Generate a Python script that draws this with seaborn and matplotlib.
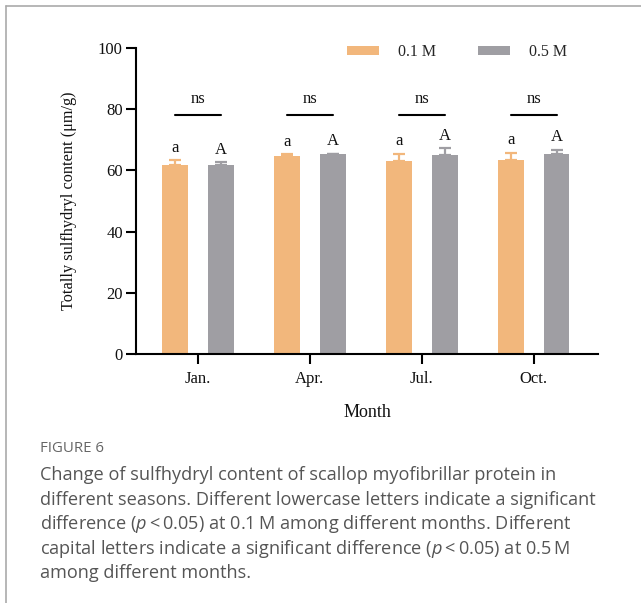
import matplotlib
matplotlib.use("Agg")
import matplotlib.pyplot as plt
import seaborn as sns
import pandas as pd
import numpy as np
from matplotlib.patches import Patch
from matplotlib.lines import Line2D

months = ["Jan.", "Apr.", "Jul.", "Oct."]
conc = ["0.1 M", "0.5 M"]
vals_01 = [61.8, 64.7, 63.1, 63.4]
vals_05 = [61.9, 65.2, 65.0, 65.5]
err_01 = [1.5, 0.5, 2.4, 2.4]
err_05 = [0.8, 0.3, 2.2, 1.3]
letters_01 = ["a", "a", "a", "a"]
letters_05 = ["A", "A", "A", "A"]
sig_labels = ["ns", "ns", "ns", "ns"]
sig_level = 78.1

colors = ["#F2B77C", "#9F9EA3"]

df = pd.DataFrame({
    "Month": months * 2,
    "Conc": [conc[0]] * 4 + [conc[1]] * 4,
    "value": vals_01 + vals_05,
    "err": err_01 + err_05,
})

sns.set_theme(style="white")
plt.rcParams["font.family"] = ["Liberation Serif", "DejaVu Serif"]
plt.rcParams["mathtext.fontset"] = "custom"
plt.rcParams["mathtext.it"] = "Open Sans:italic"
plt.rcParams["mathtext.rm"] = "Open Sans"

fig = plt.figure(figsize=(6.41, 6.03), dpi=100)
ax = fig.add_axes([136/641, 1-354/603, (598-136)/641, (354-48)/603])

sns.barplot(data=df, x="Month", y="value", hue="Conc", palette=colors,
            order=months, hue_order=conc, width=0.82, gap=0.44,
            errorbar=None, legend=False, ax=ax, saturation=1, linewidth=0)

# bars: first 4 are 0.1 M, next 4 are 0.5 M
bars = [p for p in ax.patches][:8]
for i, p in enumerate(bars):
    s = i // 4
    m = i % 4
    xc = p.get_x() + p.get_width() / 2
    top = p.get_height()
    e = (err_01 if s == 0 else err_05)[m]
    ax.errorbar([xc], [top], yerr=[[0], [e]], fmt="none", ecolor=colors[s],
                elinewidth=1.6, capsize=4.5, capthick=1.6, zorder=1)
    lab = (letters_01 if s == 0 else letters_05)[m]
    ax.annotate(lab, (xc, top + e), xytext=(0, 3), textcoords="offset points",
                ha="center", va="bottom", fontsize=12, color="#111111")

# significance lines
for m in range(4):
    p1 = bars[m]
    p2 = bars[m + 4]
    x1 = p1.get_x() + p1.get_width() / 2
    x2 = p2.get_x() + p2.get_width() / 2
    ax.plot([x1, x2], [sig_level, sig_level], color="black", lw=1.5)
    ax.annotate(sig_labels[m], ((x1 + x2) / 2, sig_level), xytext=(0, 6),
                textcoords="offset points", ha="center", va="bottom",
                fontsize=12, color="#111111")

ax.set_ylim(0, 100)
ax.set_xlim(-0.555, 3.575)
ax.set_yticks([0, 20, 40, 60, 80, 100])
for sp in ["top", "right"]:
    ax.spines[sp].set_visible(False)
for sp in ["left", "bottom"]:
    ax.spines[sp].set_color("black")
    ax.spines[sp].set_linewidth(1.5)
ax.tick_params(axis="both", which="both", direction="out", length=7.5, width=1.5,
               color="black", labelsize=12, labelcolor="#111111", left=True, bottom=True)
ax.tick_params(axis="y", pad=2)
ax.tick_params(axis="x", pad=5)
ax.set_xlabel("Month", fontsize=13, labelpad=12, color="#111111")
ax.set_ylabel("Totally sulfhydryl content (μm/g)", fontsize=11.7, labelpad=15, color="#111111")

handles = [Patch(facecolor=colors[0], edgecolor="none"),
           Patch(facecolor=colors[1], edgecolor="none")]
ax.legend(handles, conc, loc="center left", bbox_to_anchor=((347-136)/462, (354-52)/306),
          ncol=2, frameon=False, fontsize=11.5, handlelength=2.0, handleheight=0.45,
          handletextpad=1.2, columnspacing=2.6, borderaxespad=0, borderpad=0)

# frame lines (figure page border)
fig.add_artist(Line2D([6/641, 6/641], [0, 1 - 6/603], transform=fig.transFigure,
                      color="#AAAAAA", lw=1.2))
fig.add_artist(Line2D([6/641, 1], [1 - 6/603, 1 - 6/603], transform=fig.transFigure,
                      color="#AAAAAA", lw=1.2))

fig.text(40/641, 1 - 448/603, "FIGURE 6", fontsize=10.8, color="#666666",
         family=["Open Sans", "DejaVu Sans"], va="center", ha="left")
caption_lines = [
    "Change of sulfhydryl content of scallop myofibrillar protein in",
    "different seasons. Different lowercase letters indicate a significant",
    "difference ($\\it{p}$\u2009<\u20090.05) at 0.1\u2009M among different months. Different",
    "capital letters indicate a significant difference ($\\it{p}$\u2009<\u20090.05) at 0.5\u2009M",
    "among different months.",
]
for i, line in enumerate(caption_lines):
    fig.text(40/641, 1 - (475 + i * 24.6)/603, line, fontsize=13.1, color="#555555",
             family=["Open Sans", "DejaVu Sans"], va="center", ha="left")

fig.savefig("out.png", dpi=100)
